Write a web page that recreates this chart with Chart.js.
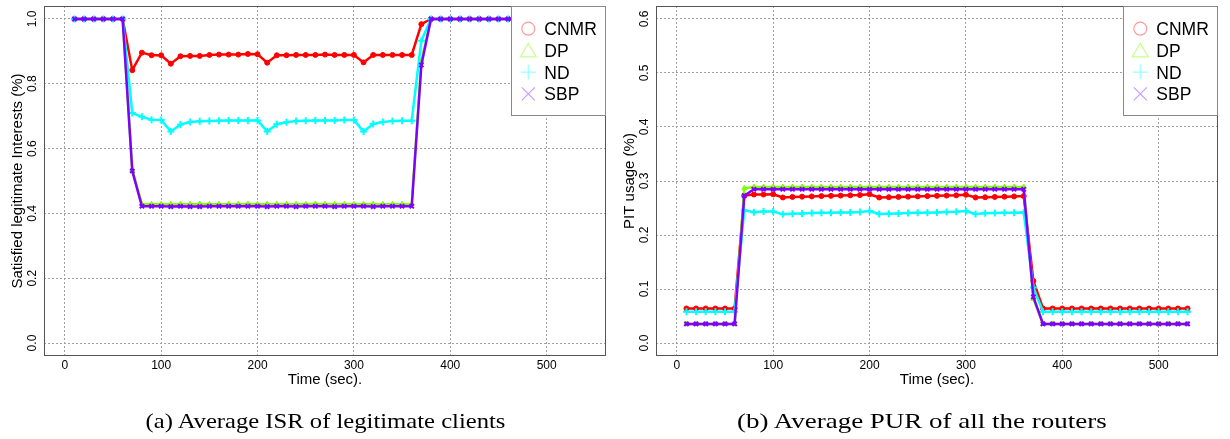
<!DOCTYPE html>
<html lang="en">
<head>
<meta charset="UTF-8" />
<title>Average ISR and PUR</title>
<script src="https://cdn.jsdelivr.net/npm/chart.js@4"></script>
<style>
  body { margin: 0; background: #fff; width: 1230px; height: 439px; overflow: hidden; position: relative; }
  canvas { position: absolute; top: 0; }
  #isrChart { left: 0; }
  #purChart { left: 615px; }
  .caption { position: absolute; top: 408px; font-family: "Liberation Serif", serif; font-size: 21px; line-height: 26px; white-space: nowrap; transform-origin: center; color: #000; }
</style>
</head>
<body>
<canvas id="isrChart" width="615" height="439"></canvas>
<canvas id="purChart" width="615" height="439"></canvas>
<div class="caption" data-cx="325" data-w="360">(a) Average ISR of legitimate clients</div>
<div class="caption" data-cx="922" data-w="370">(b) Average PUR of all the routers</div>

<script>
  // time axis (seconds)
  const times = [10, 20, 30, 40, 50, 60, 70, 80, 90, 100, 110, 120, 130, 140, 150, 160, 170, 180, 190, 200,
    210, 220, 230, 240, 250, 260, 270, 280, 290, 300, 310, 320, 330, 340, 350, 360, 370, 380, 390, 400,
    410, 420, 430, 440, 450, 460, 470, 480, 490, 500, 510, 520, 530];
  const xTicks = [0, 100, 200, 300, 400, 500];
  const isrTicks = [0.0, 0.2, 0.4, 0.6, 0.8, 1.0];
  const purTicks = [0.0, 0.1, 0.2, 0.3, 0.4, 0.5, 0.6];
  const seriesNames = ["CNMR", "DP", "ND", "SBP"];

  // (a) satisfied legitimate interests
  const isrCNMR = [1, 1, 1, 1, 1, 1,
    0.842, 0.896, 0.888, 0.888, 0.862, 0.885, 0.886, 0.886, 0.889, 0.890, 0.890, 0.890, 0.892, 0.891,
    0.865, 0.888, 0.888, 0.889, 0.889, 0.889, 0.890, 0.889, 0.889, 0.889, 0.866, 0.889, 0.889, 0.889,
    0.889, 0.889, 0.984,
    1, 1, 1, 1, 1, 1, 1, 1, 1, 1, 1, 1, 1, 1, 1, 1];
  const isrDP = [1, 1, 1, 1, 1, 1,
    0.535, 0.428, 0.428, 0.428, 0.428, 0.428, 0.428, 0.429, 0.428, 0.428, 0.428, 0.428, 0.429, 0.428,
    0.428, 0.428, 0.428, 0.428, 0.428, 0.429, 0.428, 0.428, 0.428, 0.428, 0.428, 0.428, 0.428, 0.428,
    0.428, 0.428, 0.870,
    1, 1, 1, 1, 1, 1, 1, 1, 1, 1, 1, 1, 1, 1, 1, 1];
  const isrND = [1, 1, 1, 1, 1, 1,
    0.710, 0.698, 0.689, 0.688, 0.653, 0.674, 0.682, 0.684, 0.685, 0.686, 0.687, 0.687, 0.687, 0.687,
    0.653, 0.675, 0.681, 0.685, 0.686, 0.687, 0.687, 0.687, 0.688, 0.688, 0.653, 0.676, 0.682, 0.685,
    0.686, 0.686, 0.933,
    1, 1, 1, 1, 1, 1, 1, 1, 1, 1, 1, 1, 1, 1, 1, 1];
  const isrSBP = [1, 1, 1, 1, 1, 1,
    0.531, 0.422, 0.422, 0.422, 0.421, 0.422, 0.421, 0.421, 0.422, 0.422, 0.422, 0.422, 0.422, 0.422,
    0.421, 0.422, 0.422, 0.421, 0.422, 0.422, 0.422, 0.421, 0.422, 0.422, 0.422, 0.421, 0.422, 0.422,
    0.422, 0.422, 0.858,
    1, 1, 1, 1, 1, 1, 1, 1, 1, 1, 1, 1, 1, 1, 1, 1];

  // (b) PIT usage
  const purCNMR = [0.064, 0.064, 0.064, 0.064, 0.064, 0.064,
    0.273, 0.275, 0.275, 0.2755, 0.2695, 0.2705, 0.271, 0.2715, 0.272, 0.2725, 0.273, 0.2735, 0.274, 0.2755,
    0.2695, 0.270, 0.2705, 0.271, 0.2715, 0.272, 0.2725, 0.273, 0.2735, 0.2745, 0.2695, 0.270, 0.2705, 0.271,
    0.2715, 0.272, 0.115,
    0.064, 0.064, 0.064, 0.064, 0.064, 0.064, 0.064, 0.064, 0.064, 0.064, 0.064, 0.064, 0.064, 0.064, 0.064, 0.064];
  const purDP = [0.0354, 0.0354, 0.0354, 0.0354, 0.0354, 0.0354,
    0.2865, 0.2889, 0.2889, 0.2889, 0.2889, 0.2889, 0.2889, 0.2889, 0.2889, 0.2889, 0.2889, 0.2889, 0.2889, 0.2889,
    0.2889, 0.2889, 0.2889, 0.2889, 0.2889, 0.2889, 0.2889, 0.2889, 0.2889, 0.2889, 0.2889, 0.2889, 0.2889, 0.2889,
    0.2889, 0.2889, 0.082,
    0.0354, 0.0354, 0.0354, 0.0354, 0.0354, 0.0354, 0.0354, 0.0354, 0.0354, 0.0354, 0.0354, 0.0354, 0.0354, 0.0354, 0.0354, 0.0354];
  const purND = [0.058, 0.058, 0.058, 0.058, 0.058, 0.058,
    0.246, 0.242, 0.2437, 0.2437, 0.2383, 0.2395, 0.240, 0.2407, 0.2413, 0.2413, 0.2419, 0.2419, 0.2425, 0.2444,
    0.2389, 0.2395, 0.240, 0.2407, 0.2413, 0.2413, 0.2419, 0.2425, 0.243, 0.2444, 0.2389, 0.2401, 0.2407, 0.2413,
    0.2413, 0.2419, 0.103,
    0.058, 0.058, 0.058, 0.058, 0.058, 0.058, 0.058, 0.058, 0.058, 0.058, 0.058, 0.058, 0.058, 0.058, 0.058, 0.058];
  const purSBP = [0.0354, 0.0354, 0.0354, 0.0354, 0.0354, 0.0354,
    0.273, 0.2847, 0.2847, 0.2847, 0.2847, 0.2847, 0.2847, 0.2847, 0.2847, 0.2847, 0.2847, 0.2847, 0.2847, 0.2847,
    0.2847, 0.2847, 0.2847, 0.2847, 0.2847, 0.2847, 0.2847, 0.2847, 0.2847, 0.2847, 0.2847, 0.2847, 0.2847, 0.2847,
    0.2847, 0.2847, 0.0855,
    0.0354, 0.0354, 0.0354, 0.0354, 0.0354, 0.0354, 0.0354, 0.0354, 0.0354, 0.0354, 0.0354, 0.0354, 0.0354, 0.0354, 0.0354, 0.0354];

  const colors = ["#ff0000", "#80ff00", "#00ffff", "#8000ff"];
  const paleColors = ["rgba(255,0,0,0.4)", "rgba(128,255,0,0.45)", "rgba(0,255,255,0.4)", "rgba(128,0,255,0.4)"];
  const pointStyles = ["circle", "triangle", "cross", "crossRot"];
  const pointSizes = [2.5, 3, 3.5, 3];

  // plot box, tick labels, axis titles and the legend
  const decor = {
    id: "decor",
    afterDatasetsDraw(chart) {
      const { ctx, chartArea: a } = chart;
      ctx.save();
      ctx.strokeStyle = "#555";
      ctx.lineWidth = 1;
      ctx.strokeRect(a.left + 0.5, a.top + 0.5, a.right - a.left - 1, a.bottom - a.top - 1);
      ctx.restore();
    },
    afterDraw(chart, args, opts) {
      const { ctx, chartArea: a, scales } = chart;
      ctx.save();
      ctx.fillStyle = "#000";
      ctx.textAlign = "center";
      ctx.textBaseline = "alphabetic";
      ctx.font = '12px "Liberation Sans", Arial, sans-serif';
      xTicks.forEach((v) => ctx.fillText(String(v), scales.x.getPixelForValue(v), a.bottom + 13.3));
      opts.yTicks.forEach((v) => {
        ctx.save();
        ctx.translate(a.left - 8, scales.y.getPixelForValue(v));
        ctx.rotate(-Math.PI / 2);
        ctx.fillText(v.toFixed(1), 0, 0);
        ctx.restore();
      });
      ctx.font = '15px "Liberation Sans", Arial, sans-serif';
      ctx.fillText("Time (sec).", (a.left + a.right) / 2, a.bottom + 28.3);
      ctx.save();
      ctx.translate(a.left - 22, (a.top + a.bottom) / 2);
      ctx.rotate(-Math.PI / 2);
      ctx.fillText(opts.yTitle, 0, 0);
      ctx.restore();

      // legend box in the top right corner
      const x0 = a.right - 95, y0 = a.top;
      ctx.fillStyle = "#fff";
      ctx.fillRect(x0, y0, 95, 110);
      ctx.strokeStyle = "#888";
      ctx.lineWidth = 1;
      ctx.strokeRect(x0 + 0.5, y0 + 0.5, 94, 109);
      ctx.font = '17.5px "Liberation Sans", Arial, sans-serif';
      ctx.textAlign = "left";
      seriesNames.forEach((name, i) => {
        const cy = y0 + 22.7 + i * 21.7, cx = x0 + 17.3;
        ctx.strokeStyle = paleColors[i];
        ctx.lineWidth = 1.2;
        ctx.beginPath();
        if (i === 0) {
          ctx.arc(cx, cy, 6.5, 0, Math.PI * 2);
        } else if (i === 1) {
          ctx.moveTo(cx - 8, cy + 6.5); ctx.lineTo(cx + 8, cy + 6.5); ctx.lineTo(cx, cy - 7); ctx.closePath();
        } else if (i === 2) {
          ctx.moveTo(cx - 7.5, cy); ctx.lineTo(cx + 7.5, cy); ctx.moveTo(cx, cy - 7.5); ctx.lineTo(cx, cy + 7.5);
        } else {
          ctx.moveTo(cx - 6.5, cy - 6.5); ctx.lineTo(cx + 6.5, cy + 6.5); ctx.moveTo(cx + 6.5, cy - 6.5); ctx.lineTo(cx - 6.5, cy + 6.5);
        }
        ctx.stroke();
        ctx.fillStyle = "#000";
        ctx.fillText(name, x0 + 33.3, cy + 6.5);
      });
      ctx.restore();
    },
  };

  function makeChart(id, series, yTicks, yMax, yTitle, axisWidth, rightPad) {
    return new Chart(document.getElementById(id), {
      type: "line",
      data: {
        datasets: series.map((vals, i) => ({
          label: seriesNames[i],
          data: times.map((t, j) => ({ x: t, y: vals[j] })),
          borderColor: colors[i],
          backgroundColor: colors[i],
          borderWidth: 2.5,
          pointStyle: pointStyles[i],
          pointRadius: pointSizes[i],
          pointBorderWidth: i >= 2 ? 2 : 1,
          pointBackgroundColor: colors[i],
          pointBorderColor: colors[i],
          tension: 0,
          order: 3 - i, // SBP drawn last, on top
        })),
      },
      options: {
        responsive: false,
        animation: false,
        devicePixelRatio: 1,
        layout: { padding: { left: 0, top: 3, right: rightPad, bottom: 0 } },
        plugins: {
          legend: { display: false },
          tooltip: { enabled: false },
          decor: { yTicks: yTicks, yTitle: yTitle },
        },
        scales: {
          x: {
            type: "linear",
            min: -21.6,
            max: 561.6,
            afterBuildTicks: (s) => { s.ticks = xTicks.map((v) => ({ value: v })); },
            afterFit: (s) => { s.height = 83; },
            ticks: { display: false },
            grid: { color: "#a0a0a0", drawTicks: false, lineWidth: 1 },
            border: { display: false, dash: [2, 2] },
          },
          y: {
            min: -0.04 * yMax,
            max: 1.04 * yMax,
            afterBuildTicks: (s) => { s.ticks = yTicks.map((v) => ({ value: v })); },
            afterFit: (s) => { s.width = axisWidth; },
            ticks: { display: false },
            grid: { color: "#a0a0a0", drawTicks: false, lineWidth: 1 },
            border: { display: false, dash: [2, 2] },
          },
        },
      },
      plugins: [decor],
    });
  }

  makeChart("isrChart", [isrCNMR, isrDP, isrND, isrSBP], isrTicks, 1.0,
    "Satisfied legitimate Interests (%)", 44, 9);
  makeChart("purChart", [purCNMR, purDP, purND, purSBP], purTicks, 0.6,
    "PIT usage (%)", 41, 12);

  // stretch the captions to the width they have under the figures
  document.querySelectorAll(".caption").forEach((el) => {
    const natural = el.offsetWidth;
    const target = Number(el.dataset.w);
    el.style.left = (Number(el.dataset.cx) - natural / 2) + "px";
    el.style.transform = "scaleX(" + (target / natural) + ")";
  });
</script>
</body>
</html>
